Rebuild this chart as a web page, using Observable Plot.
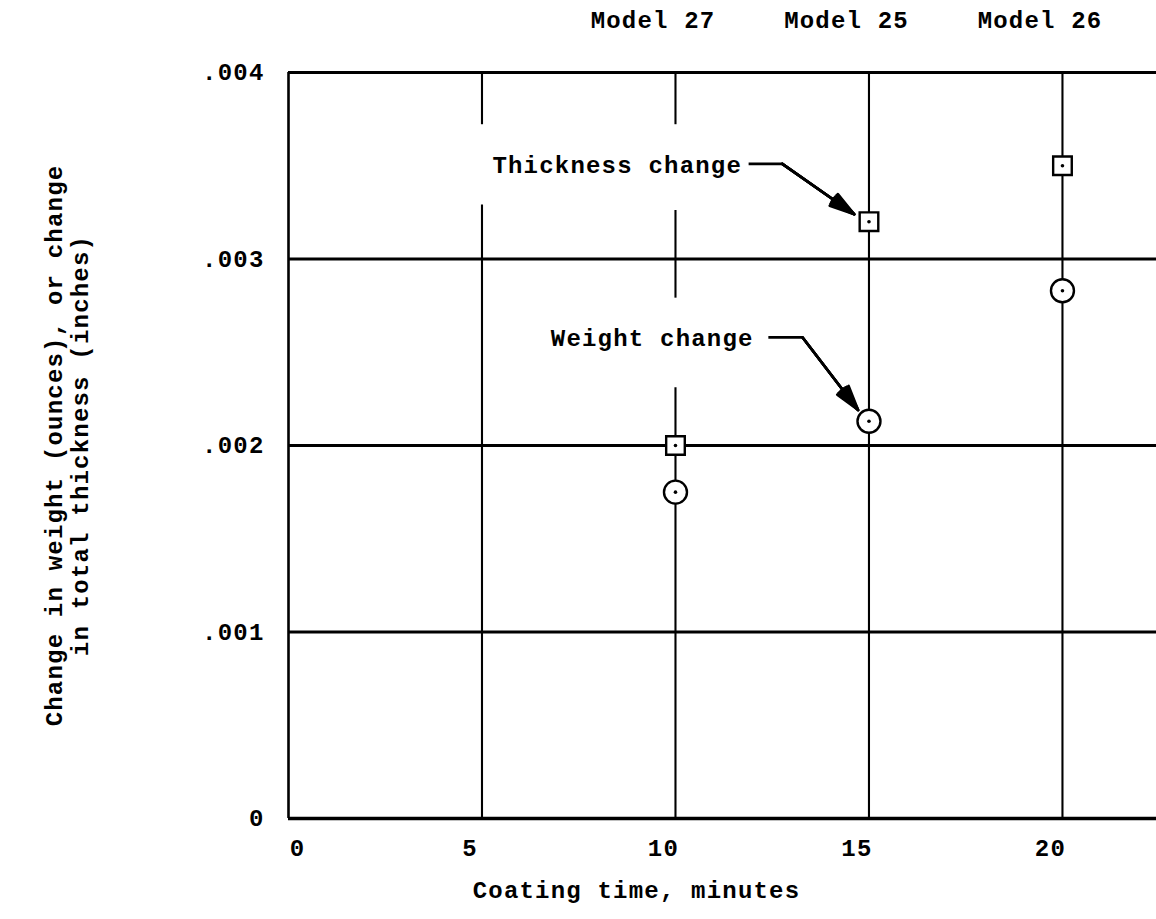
<!DOCTYPE html>
<html><head><meta charset="utf-8">
<script src="https://cdn.jsdelivr.net/npm/d3@7"></script>
<script src="https://cdn.jsdelivr.net/npm/@observablehq/plot@0.6"></script>
<style>
html,body{margin:0;padding:0;background:#fff;}
#chart svg text{letter-spacing:1.2px;}
</style></head><body><div id="chart"></div>
<script>
// ---- data ----
const coatingTime = [10, 15, 20];
const modelNames = ["Model 27", "Model 25", "Model 26"];
const thicknessChange = [0.0020, 0.0032, 0.0035];
const weightChange = [0.00175, 0.00213, 0.00283];
const xTicks = [0, 5, 10, 15, 20];
const yTicks = [0, 0.001, 0.002, 0.003, 0.004];
const yTickLabels = ["0", ".001", ".002", ".003", ".004"];
const xLabel = "Coating time, minutes";
const yLabel = "Change in weight (ounces), or change\nin total thickness (inches)";
// vertical grid rules (data units); the typed notes interrupt some of them
const gridX    = [5, 5, 10, 10, 10, 15, 20];
const gridFrom = [0, 0.00372, 0, 0.00279, 0.00372, 0, 0];
const gridTo   = [0.00329, 0.004, 0.00231, 0.00326, 0.004, 0.004, 0.004];
// callouts (data units)
const calloutText   = ["Thickness change", "Weight change"];
const calloutTextX  = [11.72, 12.02];
const calloutY      = [0.00351, 0.00258];
const calloutStartX = [11.89, 12.40];
const calloutBendX  = [12.76, 13.28];
const calloutTipX   = [14.62, 14.72];
const calloutTipY   = [0.00324, 0.00219];

// ---- tables built from the arrays ----
const points = coatingTime.map((t, i) => ({t, model: modelNames[i], thick: thicknessChange[i], weight: weightChange[i]}));
const grid = gridX.map((x, i) => ({x, y1: gridFrom[i], y2: gridTo[i]}));
const callouts = calloutText.map((text, i) => ({
  text, tx: calloutTextX[i], y: calloutY[i], sx: calloutStartX[i], bx: calloutBendX[i],
  ex: calloutTipX[i], ey: calloutTipY[i]
}));

const FONT = "'Liberation Mono', 'DejaVu Sans Mono', monospace";
const FS = 24;
const arrowHeads = [8, 16, 24, 32].map(a =>
  Plot.arrow(callouts, {x1: "bx", y1: "y", x2: "ex", y2: "ey", stroke: "#000", strokeWidth: 2.6, headLength: 15, headAngle: a}));

const chart = Plot.plot({
  width: 1156,
  height: 919,
  marginLeft: 288,
  marginRight: 0,
  marginTop: 72,
  marginBottom: 101,
  style: {fontFamily: FONT, fontSize: FS + "px", color: "#000", background: "#fff"},
  x: {domain: [0, 22.43], axis: null},
  y: {domain: [0, 0.004], axis: null},
  marks: [
    // horizontal grid + frame
    Plot.ruleY([0.001, 0.002, 0.003], {stroke: "#000", strokeWidth: 2.8}),
    Plot.ruleY([0.004], {stroke: "#000", strokeWidth: 3}),
    Plot.ruleY([0], {stroke: "#000", strokeWidth: 3.6}),
    Plot.ruleX([0], {stroke: "#000", strokeWidth: 2.6}),
    // vertical grid
    Plot.ruleX(grid, {x: "x", y1: "y1", y2: "y2", stroke: "#000", strokeWidth: 2.1}),
    // callouts
    Plot.link(callouts, {x1: "sx", x2: "bx", y1: "y", y2: "y", stroke: "#000", strokeWidth: 2.6}),
    ...arrowHeads,
    Plot.text(callouts, {x: "tx", y: "y", text: "text", textAnchor: "end", fontWeight: "bold", fontSize: FS, dy: 1}),
    // data points
    Plot.dot(points, {x: "t", y: "thick", symbol: "square", r: 10.5, fill: "#fff", stroke: "#000", strokeWidth: 2.4}),
    Plot.dot(points, {x: "t", y: "weight", symbol: "circle", r: 11.5, fill: "#fff", stroke: "#000", strokeWidth: 2.4}),
    Plot.dot(points, {x: "t", y: "thick", r: 1.8, fill: "#000", stroke: null}),
    Plot.dot(points, {x: "t", y: "weight", r: 1.8, fill: "#000", stroke: null}),
    // model labels above the frame
    Plot.text(points, {x: "t", text: "model", frameAnchor: "top", lineAnchor: "middle", textAnchor: "end", dx: 40, dy: -52, fontWeight: "bold", fontSize: FS}),
    // axes
    Plot.axisX(xTicks.filter(d => d === 0), {anchor: "bottom", tickSize: 0, tickPadding: 20, fontSize: FS, fontWeight: "bold", dx: 9}),
    Plot.axisX(xTicks.filter(d => d !== 0), {anchor: "bottom", tickSize: 0, tickPadding: 20, fontSize: FS, fontWeight: "bold", dx: -12}),
    Plot.axisY(yTicks, {anchor: "left", tickSize: 0, tickPadding: 24, fontSize: FS, fontWeight: "bold",
      tickFormat: d => yTickLabels[yTicks.indexOf(d)]}),
    // axis titles
    Plot.text([xLabel], {frameAnchor: "bottom", lineAnchor: "middle", dy: 72, dx: -86, fontWeight: "bold", fontSize: FS}),
    Plot.text([yLabel], {frameAnchor: "left", textAnchor: "middle", rotate: -90, dx: -222, lineHeight: 1.1, fontWeight: "bold", fontSize: FS})
  ]
});
document.getElementById("chart").appendChild(chart);
</script>
</body></html>
